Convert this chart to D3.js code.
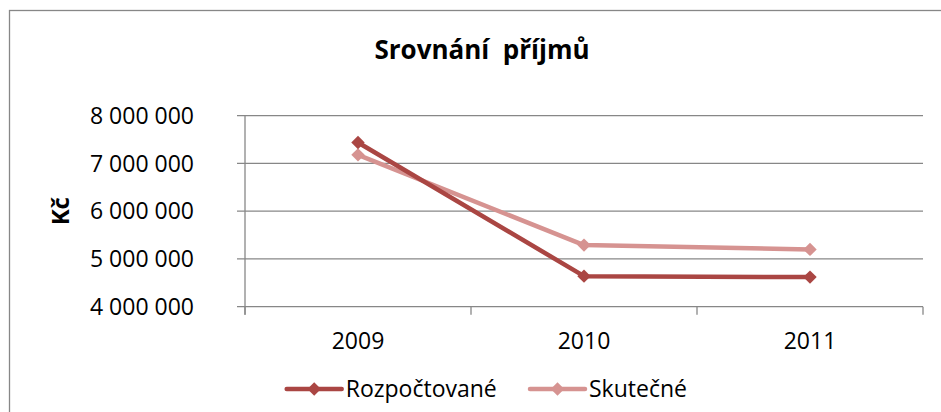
<!DOCTYPE html>
<html>
<head>
<meta charset="utf-8">
<script src="https://cdn.jsdelivr.net/npm/d3@7"></script>
<style>
  body { margin: 0; background: #fff; }
  text { font-family: "Open Sans", sans-serif; fill: #000; }
</style>
</head>
<body>
<script>
// chart data
var years = ["2009", "2010", "2011"];
var rozpoctovane = [7440000, 4640000, 4620000];
var skutecne = [7180000, 5290000, 5200000];
var seriesNames = ["Rozpočtované", "Skutečné"];
var yTicks = [4000000, 5000000, 6000000, 7000000, 8000000];

var width = 941,
    height = 412;

var svg = d3.select("body").append("svg")
    .attr("width", width)
    .attr("height", height)
    .style("display", "block");

var colors = ["#AA4643", "#D69391"];
var gridColor = "#878787";

// outer chart border (runs off right and bottom edges)
svg.append("rect")
    .attr("x", 9.5)
    .attr("y", 10.5)
    .attr("width", 1000)
    .attr("height", 600)
    .attr("fill", "none")
    .attr("stroke", gridColor)
    .attr("stroke-width", 1.3);

var plot = { left: 245, right: 923, top: 115.7, bottom: 306.7 };

var x = d3.scaleBand()
    .domain(years)
    .range([plot.left, plot.right]);

var y = d3.scaleLinear()
    .domain([4000000, 8000000])
    .range([plot.bottom, plot.top]);

var fmt = function(v) { return d3.format(",")(v).replace(/,/g, " "); };

// gridlines
svg.append("g")
    .selectAll("line")
    .data(yTicks)
    .enter().append("line")
    .attr("x1", plot.left - 8)
    .attr("x2", plot.right)
    .attr("y1", function(d) { return y(d); })
    .attr("y2", function(d) { return y(d); })
    .attr("stroke", gridColor)
    .attr("stroke-width", 1.3);

// y axis line
svg.append("line")
    .attr("x1", plot.left).attr("x2", plot.left)
    .attr("y1", plot.top).attr("y2", plot.bottom + 8)
    .attr("stroke", gridColor)
    .attr("stroke-width", 1.3);

// x axis tick marks at band edges
var edges = years.map(function(d) { return x(d); }).concat([plot.right]);
svg.append("g")
    .selectAll("line")
    .data(edges)
    .enter().append("line")
    .attr("x1", function(d) { return d; })
    .attr("x2", function(d) { return d; })
    .attr("y1", plot.bottom)
    .attr("y2", plot.bottom + 8)
    .attr("stroke", gridColor)
    .attr("stroke-width", 1.3);

// y tick labels
svg.append("g")
    .selectAll("text")
    .data(yTicks)
    .enter().append("text")
    .attr("x", 194)
    .attr("y", function(d) { return y(d); })
    .attr("dy", "0.35em")
    .attr("text-anchor", "end")
    .style("font-size", "23px")
    .text(fmt);

// x tick labels
svg.append("g")
    .selectAll("text")
    .data(years)
    .enter().append("text")
    .attr("x", function(d) { return x(d) + x.bandwidth() / 2; })
    .attr("y", 349)
    .attr("text-anchor", "middle")
    .style("font-size", "23px")
    .text(function(d) { return d; });

// title
svg.append("text")
    .attr("x", 482)
    .attr("y", 59)
    .attr("text-anchor", "middle")
    .style("font-size", "26px")
    .style("font-weight", "bold")
    .style("white-space", "pre")
    .text("Srovnání  příjmů");

// y axis title
svg.append("text")
    .attr("transform", "translate(69," + ((plot.top + plot.bottom) / 2) + ") rotate(-90)")
    .attr("text-anchor", "middle")
    .style("font-size", "24px")
    .style("font-weight", "bold")
    .text("Kč");

var line = d3.line()
    .x(function(d, i) { return x(years[i]) + x.bandwidth() / 2; })
    .y(function(d) { return y(d); });

var diamond = d3.symbol().type(d3.symbolDiamond2).size(115);

var allSeries = [rozpoctovane, skutecne];
// draw the light series first so the dark one sits on top at 2009
[1, 0].forEach(function(s) {
    var g = svg.append("g");
    g.append("path")
        .datum(allSeries[s])
        .attr("fill", "none")
        .attr("stroke", colors[s])
        .attr("stroke-width", 4.5)
        .attr("stroke-linejoin", "round")
        .attr("d", line);
    g.selectAll("path.pt")
        .data(allSeries[s])
        .enter().append("path")
        .attr("class", "pt")
        .attr("transform", function(d, i) {
            return "translate(" + (x(years[i]) + x.bandwidth() / 2) + "," + y(d) + ")";
        })
        .attr("d", diamond)
        .attr("fill", colors[s]);
});

// legend
var legendX = [286.7, 530];
seriesNames.forEach(function(name, i) {
    var lg = svg.append("g").attr("transform", "translate(" + legendX[i] + ",389)");
    lg.append("line")
        .attr("x1", 0).attr("x2", 55)
        .attr("y1", 0).attr("y2", 0)
        .attr("stroke", colors[i])
        .attr("stroke-width", 4.5)
        .attr("stroke-linecap", "round");
    lg.append("path")
        .attr("transform", "translate(27.5,0)")
        .attr("d", diamond)
        .attr("fill", colors[i]);
    lg.append("text")
        .attr("x", 59)
        .attr("y", 0)
        .attr("dy", "0.35em")
        .style("font-size", "23px")
        .text(name);
});
</script>
</body>
</html>
